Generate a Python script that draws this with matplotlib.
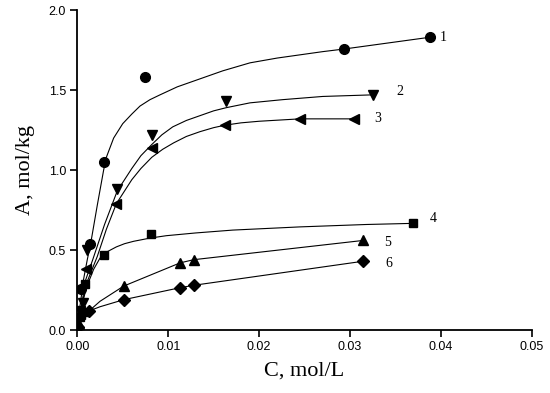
import matplotlib
matplotlib.use('Agg')
import matplotlib.pyplot as plt

# measured points (C, mol/L ; A, mol/kg)
c1 = [0.0004, 0.0014, 0.0029, 0.0075, 0.0293, 0.0388]
a1 = [0.26, 0.54, 1.05, 1.58, 1.756, 1.83]
c2 = [0.0003, 0.0006, 0.0011, 0.0044, 0.0082, 0.0164, 0.0325]
a2 = [0.12, 0.17, 0.50, 0.88, 1.22, 1.43, 1.47]
c3 = [0.0003, 0.0010, 0.0043, 0.0082, 0.0162, 0.0245, 0.0304]
a3 = [0.10, 0.38, 0.79, 1.14, 1.28, 1.32, 1.32]
c4 = [0.0003, 0.0009, 0.0029, 0.0081, 0.0369]
a4 = [0.08, 0.29, 0.47, 0.60, 0.667]
c5 = [0.0002, 0.0007, 0.0051, 0.0113, 0.0128, 0.0314]
a5 = [0.04, 0.12, 0.275, 0.42, 0.44, 0.56]
c6 = [0.0001, 0.0013, 0.0051, 0.0113, 0.0128, 0.0314]
a6 = [0.02, 0.12, 0.19, 0.265, 0.28, 0.43]

# fitted curves
fc1 = [0, 0.0003, 0.0007, 0.0011, 0.0015, 0.0022, 0.0029, 0.0032, 0.004, 0.005,
       0.006, 0.0069, 0.008, 0.0091, 0.011, 0.0135, 0.016, 0.019, 0.022, 0.0245,
       0.027, 0.0293, 0.0388]
fa1 = [0, 0.15, 0.32, 0.44, 0.55, 0.78, 1.00, 1.08, 1.20, 1.29,
       1.35, 1.40, 1.44, 1.47, 1.52, 1.57, 1.62, 1.67, 1.70, 1.72,
       1.74, 1.756, 1.83]
fc2 = [0, 0.0003, 0.0009, 0.0017, 0.003, 0.0044, 0.0052, 0.006, 0.007, 0.0082,
       0.0093, 0.0105, 0.012, 0.0135, 0.015, 0.0164, 0.019, 0.0226, 0.027, 0.0325]
fa2 = [0, 0.09, 0.31, 0.44, 0.66, 0.87, 0.94, 1.01, 1.09, 1.16,
       1.22, 1.27, 1.31, 1.34, 1.37, 1.39, 1.42, 1.44, 1.46, 1.47]
fc3 = [0, 0.0004, 0.001, 0.0022, 0.0032, 0.0043, 0.006, 0.007, 0.0082, 0.0094,
       0.0106, 0.012, 0.0135, 0.015, 0.0162, 0.018, 0.02, 0.0245, 0.0304]
fa3 = [0, 0.12, 0.29, 0.46, 0.63, 0.79, 0.94, 1.01, 1.08, 1.13,
       1.17, 1.21, 1.24, 1.265, 1.28, 1.295, 1.305, 1.32, 1.32]
fc4 = [0, 0.0004, 0.0011, 0.0018, 0.0025, 0.0033, 0.0043, 0.0052, 0.0062, 0.008,
       0.0098, 0.013, 0.0171, 0.0245, 0.0318, 0.0369]
fa4 = [0, 0.14, 0.28, 0.38, 0.45, 0.49, 0.52, 0.54, 0.555, 0.575,
       0.59, 0.607, 0.625, 0.645, 0.66, 0.667]
fc5 = [0, 0.0004, 0.0013, 0.0025, 0.0051, 0.0113, 0.0128, 0.0314]
fa5 = [0, 0.06, 0.12, 0.18, 0.275, 0.42, 0.44, 0.56]
fc6 = [0, 0.0004, 0.0013, 0.0025, 0.0051, 0.0113, 0.0128, 0.0314]
fa6 = [0, 0.06, 0.12, 0.146, 0.19, 0.265, 0.28, 0.43]

labels = ['1', '2', '3', '4', '5', '6']
label_c = [0.0399, 0.0351, 0.0327, 0.0388, 0.0338, 0.0339]
label_a = [1.83, 1.49, 1.325, 0.70, 0.55, 0.417]

pts = [(c1, a1, 'o', 7), (c2, a2, 'v', 7.5), (c3, a3, '<', 7.5),
       (c4, a4, 's', 5.5), (c5, a5, '^', 7.5), (c6, a6, 'D', 6)]
fits = [(fc1, fa1), (fc2, fa2), (fc3, fa3), (fc4, fa4), (fc5, fa5), (fc6, fa6)]

fig = plt.figure(figsize=(5.5, 3.93), dpi=100)
ax = fig.add_axes([0.1405, 0.160, 0.8265, 0.8145])

for fc, fa in fits:
    ax.plot(fc, fa, '-', color='black', lw=0.8)
for c, a, m, ms in pts:
    ax.plot(c, a, m, color='black', ms=ms, ls='none')
for t, c, a in zip(labels, label_c, label_a):
    ax.text(c, a, t, fontsize=10, family='Liberation Serif', va='center', ha='left')

ax.set_xlim(0, 0.05)
ax.set_ylim(0, 2.0)
ax.set_xticks([0, 0.01, 0.02, 0.03, 0.04, 0.05])
ax.set_xticklabels(['0.00', '0.01', '0.02', '0.03', '0.04', '0.05'])
ax.set_yticks([0, 0.5, 1.0, 1.5, 2.0])
ax.set_yticklabels(['0.0', '0.5', '1.0', '1.5', '2.0'])
for s in ['top', 'right']:
    ax.spines[s].set_visible(False)
for s in ['left', 'bottom']:
    ax.spines[s].set_linewidth(1.3)
ax.tick_params(direction='out', length=5, width=1.2, labelsize=9, pad=3)
for lab in ax.get_xticklabels() + ax.get_yticklabels():
    lab.set_family('Liberation Sans')

ax.set_xlabel('C, mol/L', family='Liberation Serif', fontsize=16, labelpad=6)
ax.set_ylabel('A, mol/kg', family='Liberation Serif', fontsize=16, labelpad=10)

fig.savefig('out.png', dpi=100)
plt.close()
